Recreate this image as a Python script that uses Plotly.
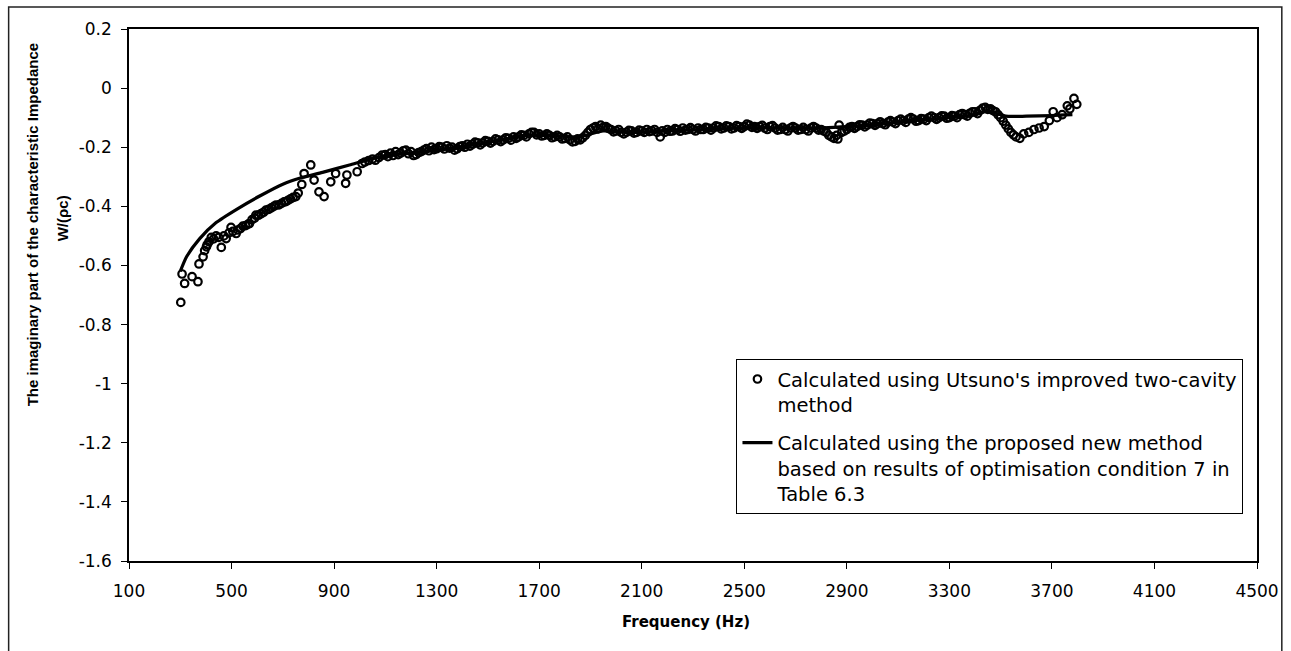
import plotly.graph_objects as go

# Measured imaginary part of the characteristic impedance (improved two-cavity method)
# low-frequency part, 300-1090 Hz
utsuno_freq_low = [
    302, 307, 317, 346, 369, 373, 389, 395, 402, 405, 412, 421, 430, 440, 450, 460,
    470, 479, 490, 498, 505, 518, 525, 535, 544, 555, 565, 570, 580, 590, 595, 605,
    615, 625, 634, 645, 655, 665, 673, 685, 695, 705, 712, 720, 730, 740, 751, 760,
    774, 783, 809, 822, 841, 861, 887, 906, 945, 950, 990, 1009, 1020, 1035, 1050,
    1061, 1075, 1087,
]
utsuno_w_low = [
    -0.725, -0.629, -0.661, -0.638, -0.655, -0.595, -0.571, -0.550, -0.537, -0.530,
    -0.520, -0.505, -0.510, -0.500, -0.505, -0.539, -0.500, -0.509, -0.490, -0.471,
    -0.485, -0.492, -0.480, -0.475, -0.467, -0.465, -0.460, -0.458, -0.445, -0.440,
    -0.430, -0.430, -0.425, -0.420, -0.413, -0.410, -0.405, -0.400, -0.396, -0.395,
    -0.390, -0.385, -0.384, -0.380, -0.375, -0.370, -0.367, -0.355,
    -0.326, -0.289, -0.260, -0.311, -0.351, -0.367, -0.317, -0.289, -0.322, -0.294,
    -0.283, -0.255, -0.250, -0.245, -0.240, -0.244, -0.235, -0.227,
]

# mid band, 1100-3460 Hz
utsuno_freq_mid = [
    1100, 1110, 1120, 1130, 1140, 1150, 1160, 1170, 1180, 1190,
    1200, 1210, 1220, 1230, 1240, 1250, 1260, 1270, 1280, 1290,
    1300, 1310, 1320, 1330, 1340, 1350, 1360, 1370, 1380, 1390,
    1400, 1410, 1420, 1430, 1440, 1450, 1460, 1470, 1480, 1490,
    1500, 1510, 1520, 1530, 1540, 1550, 1560, 1570, 1580, 1590,
    1600, 1610, 1620, 1630, 1640, 1650, 1660, 1670, 1680, 1690,
    1700, 1710, 1720, 1730, 1740, 1750, 1760, 1770, 1780, 1790,
    1800, 1810, 1820, 1830, 1840, 1850, 1860, 1870, 1880, 1890,
    1900, 1910, 1920, 1930, 1940, 1950, 1960, 1970, 1980, 1990,
    2000, 2010, 2020, 2030, 2040, 2050, 2060, 2070, 2080, 2090,
    2100, 2110, 2120, 2130, 2140, 2150, 2160, 2172, 2180, 2190,
    2200, 2210, 2220, 2230, 2240, 2250, 2260, 2270, 2280, 2290,
    2300, 2310, 2320, 2330, 2340, 2350, 2360, 2370, 2380, 2390,
    2400, 2410, 2420, 2430, 2440, 2450, 2460, 2470, 2480, 2490,
    2500, 2510, 2520, 2530, 2540, 2550, 2560, 2570, 2580, 2590,
    2600, 2610, 2620, 2630, 2640, 2650, 2660, 2670, 2680, 2690,
    2700, 2710, 2720, 2730, 2740, 2750, 2760, 2770, 2780, 2790,
    2800, 2810, 2820, 2830, 2840, 2850, 2860, 2865, 2870, 2880,
    2890, 2900, 2910, 2920, 2930, 2940, 2950, 2960, 2970, 2980,
    2990, 3000, 3010, 3020, 3030, 3040, 3050, 3060, 3070, 3080,
    3090, 3100, 3110, 3120, 3130, 3140, 3150, 3160, 3170, 3180,
    3190, 3200, 3210, 3220, 3230, 3240, 3250, 3260, 3270, 3280,
    3290, 3300, 3310, 3320, 3330, 3340, 3350, 3360, 3370, 3380,
    3390, 3400, 3410, 3420, 3430, 3440, 3450, 3460,
]
utsuno_w_mid = [
    -0.225, -0.232, -0.220, -0.228, -0.215, -0.225, -0.220, -0.212, -0.210, -0.222,
    -0.215, -0.228, -0.225, -0.218, -0.215, -0.210, -0.205, -0.212, -0.200, -0.208,
    -0.205, -0.198, -0.200, -0.206, -0.195, -0.203, -0.200, -0.210, -0.205, -0.198,
    -0.195, -0.200, -0.190, -0.196, -0.190, -0.183, -0.185, -0.192, -0.185, -0.178,
    -0.180, -0.186, -0.180, -0.172, -0.175, -0.181, -0.175, -0.168, -0.170, -0.176,
    -0.165, -0.170, -0.165, -0.158, -0.160, -0.165, -0.155, -0.150, -0.150, -0.158,
    -0.155, -0.162, -0.160, -0.155, -0.160, -0.168, -0.165, -0.160, -0.165, -0.172,
    -0.170, -0.165, -0.175, -0.182, -0.180, -0.172, -0.175, -0.168, -0.160, -0.150,
    -0.140, -0.135, -0.130, -0.138, -0.125, -0.132, -0.130, -0.136, -0.140, -0.148,
    -0.145, -0.140, -0.150, -0.155, -0.150, -0.143, -0.145, -0.152, -0.150, -0.142,
    -0.145, -0.150, -0.140, -0.147, -0.145, -0.140, -0.150, -0.165, -0.145, -0.150,
    -0.140, -0.146, -0.145, -0.137, -0.140, -0.146, -0.135, -0.142, -0.140, -0.134,
    -0.140, -0.145, -0.135, -0.140, -0.140, -0.133, -0.135, -0.142, -0.135, -0.128,
    -0.130, -0.138, -0.135, -0.128, -0.130, -0.138, -0.135, -0.127, -0.130, -0.136,
    -0.130, -0.122, -0.125, -0.133, -0.130, -0.136, -0.130, -0.126, -0.135, -0.140,
    -0.130, -0.127, -0.135, -0.142, -0.140, -0.133, -0.140, -0.145, -0.135, -0.130,
    -0.135, -0.142, -0.140, -0.133, -0.140, -0.145, -0.135, -0.130, -0.135, -0.142,
    -0.140, -0.145, -0.150, -0.160, -0.165, -0.170, -0.160, -0.172, -0.125, -0.150,
    -0.145, -0.140, -0.133, -0.130, -0.136, -0.130, -0.124, -0.125, -0.131, -0.125,
    -0.118, -0.120, -0.126, -0.120, -0.114, -0.120, -0.124, -0.115, -0.110, -0.115,
    -0.120, -0.110, -0.105, -0.110, -0.116, -0.105, -0.100, -0.105, -0.112, -0.110,
    -0.103, -0.105, -0.110, -0.100, -0.095, -0.100, -0.106, -0.100, -0.094, -0.095,
    -0.102, -0.100, -0.093, -0.095, -0.100, -0.090, -0.086, -0.090, -0.095, -0.085,
    -0.080, -0.080, -0.086, -0.075, -0.068, -0.065, -0.072, -0.070,
]

# high-frequency end, 3470-3800 Hz
utsuno_freq_high = [
    3470, 3480, 3490, 3500, 3510, 3520, 3530, 3540, 3550, 3560, 3575, 3590, 3610,
    3630, 3650, 3670, 3690, 3705, 3720, 3740, 3760, 3770, 3786, 3797,
]
utsuno_w_high = [
    -0.076, -0.080, -0.090, -0.100, -0.112, -0.125, -0.138, -0.150, -0.158, -0.165,
    -0.170, -0.155, -0.150, -0.140, -0.135, -0.130, -0.110, -0.080, -0.100, -0.090,
    -0.060, -0.070, -0.035, -0.055,
]

# Result of the proposed method (optimisation condition 7)
model_freq = [
    300, 325, 375, 440, 520, 610, 700, 765, 855, 960, 1090, 1200, 1350, 1460, 1550,
    1650, 1750, 1850, 1950, 2050, 2200, 2350, 2500, 2650, 2800, 2900, 3000, 3150, 3300,
    3400, 3450, 3520, 3600, 3700, 3780,
]
model_w = [
    -0.620, -0.570, -0.510, -0.455, -0.410, -0.365, -0.325, -0.305, -0.285, -0.260,
    -0.230, -0.220, -0.205, -0.190, -0.175, -0.160, -0.160, -0.165, -0.145, -0.150,
    -0.145, -0.140, -0.135, -0.135, -0.135, -0.130, -0.125, -0.110, -0.100, -0.090,
    -0.078, -0.095, -0.095, -0.093, -0.090,
]

x_ticks = [100, 500, 900, 1300, 1700, 2100, 2500, 2900, 3300, 3700, 4100, 4500]
y_ticks = [0.2, 0, -0.2, -0.4, -0.6, -0.8, -1, -1.2, -1.4, -1.6]
y_tick_text = ["0.2", "0", "-0.2", "-0.4", "-0.6", "-0.8", "-1", "-1.2", "-1.4", "-1.6"]

series_names = [
    "Calculated using Utsuno's improved two-cavity<br>method",
    "Calculated using the proposed new method<br>based on results of optimisation condition 7 in<br>Table 6.3",
]

utsuno_freq = utsuno_freq_low + utsuno_freq_mid + utsuno_freq_high
utsuno_w = utsuno_w_low + utsuno_w_mid + utsuno_w_high
assert len(utsuno_freq) == len(utsuno_w)
assert len(model_freq) == len(model_w)

FONT = "DejaVu Sans"

fig = go.Figure()
fig.add_trace(go.Scatter(
    x=utsuno_freq, y=utsuno_w, mode="markers", name=series_names[0], legendgroup="utsuno",
    marker=dict(symbol="circle-open", size=7.5, color="black", line=dict(width=2.2, color="black")),
))
fig.add_trace(go.Scatter(
    x=model_freq, y=model_w, mode="lines", name=series_names[1], legendgroup="model",
    line=dict(color="black", width=3.2, shape="spline", smoothing=0.6),
))

fig.update_layout(
    width=1291, height=651,
    margin=dict(l=129, r=28, t=29, b=90),
    paper_bgcolor="white", plot_bgcolor="white",
    font=dict(family=FONT, color="black", size=17),
    legend=dict(
        x=0.988, xanchor="right", y=0.38, yanchor="top",
        bgcolor="white", bordercolor="black", borderwidth=1,
        font=dict(family=FONT, size=19.5, color="black"),
        valign="top", tracegroupgap=10,
    ),
    showlegend=True,
)
fig.update_xaxes(
    range=[100, 4500], tickvals=x_ticks, ticktext=[str(v) for v in x_ticks],
    showgrid=False, zeroline=False, showline=True, linecolor="black", linewidth=1.5,
    mirror=True, ticks="outside", ticklen=6, tickcolor="black", tickwidth=1,
    tickfont=dict(family=FONT, size=17), ticklabelstandoff=8,
)
fig.update_yaxes(
    range=[-1.6, 0.2], tickvals=y_ticks, ticktext=y_tick_text,
    showgrid=False, zeroline=False, showline=True, linecolor="black", linewidth=1.5,
    mirror=True, ticks="outside", ticklen=6, tickcolor="black", tickwidth=1,
    tickfont=dict(family=FONT, size=17), ticklabelstandoff=6,
)

# Axis titles
fig.add_annotation(
    text="<b>Frequency (Hz)</b>", xref="paper", yref="paper", x=0.4935, y=-0.1147,
    xanchor="center", yanchor="middle", showarrow=False,
    font=dict(family=FONT, size=15, color="black"),
)
fig.add_annotation(
    text="<b>The imaginary part of the characteristic Impedance</b>",
    xref="paper", yref="paper", x=-0.0855, y=0.632, textangle=-90,
    xanchor="center", yanchor="middle", showarrow=False,
    font=dict(family="Liberation Sans", size=15, color="black"),
)
fig.add_annotation(
    text="<b>W/(ρc)</b>",
    xref="paper", yref="paper", x=-0.0590, y=0.645, textangle=-90,
    xanchor="center", yanchor="middle", showarrow=False,
    font=dict(family="Liberation Sans", size=15, color="black"),
)

# Chart area frame
fig.add_shape(
    type="rect", xref="paper", yref="paper",
    x0=-0.1067, x1=1.022, y0=-0.18, y1=1.0414,
    line=dict(color="#222222", width=1.5), fillcolor="rgba(0,0,0,0)", layer="below",
)

fig.write_html("out.html")
